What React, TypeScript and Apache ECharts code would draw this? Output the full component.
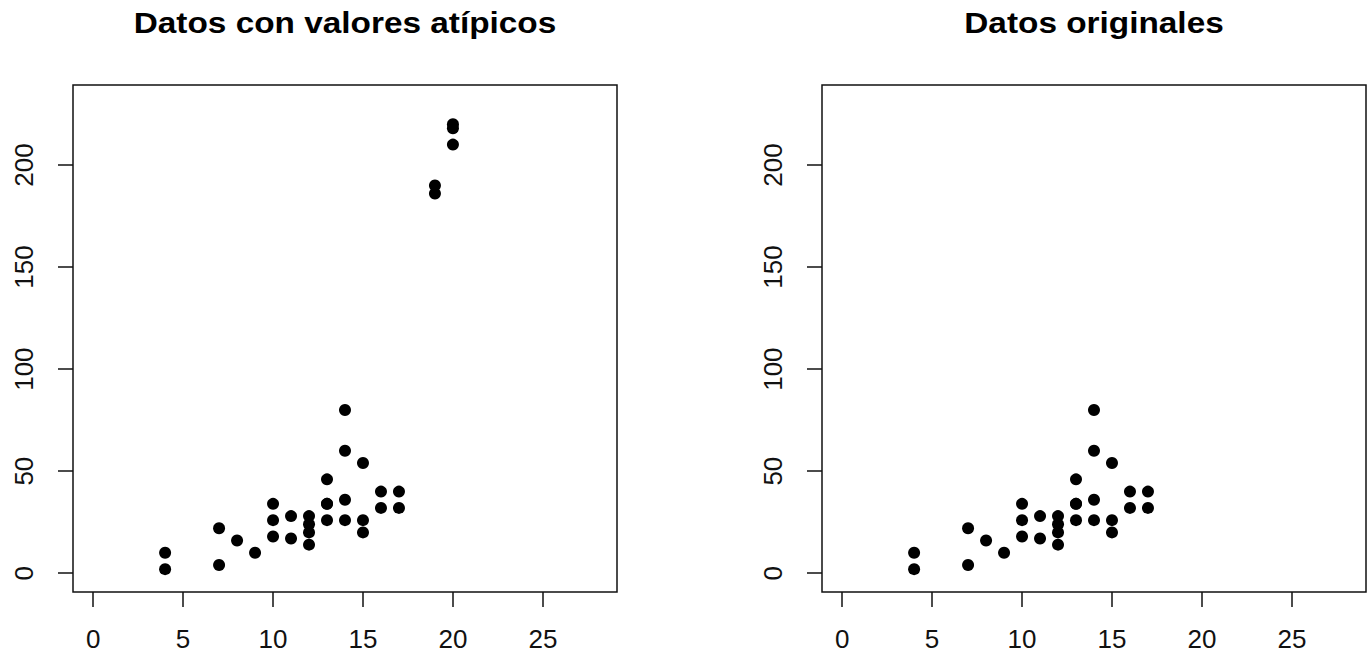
import React, { useEffect, useRef } from "react";
import * as echarts from "echarts";

// Original data (first 30 rows of R's "cars")
const speed = [4, 4, 7, 7, 8, 9, 10, 10, 10, 11, 11, 12, 12, 12, 12, 13, 13, 13, 13, 14, 14, 14, 14, 15, 15, 15, 16, 16, 17, 17];
const dist = [2, 10, 4, 22, 16, 10, 18, 26, 34, 17, 28, 14, 20, 24, 28, 26, 34, 34, 46, 26, 36, 60, 80, 20, 26, 54, 32, 40, 32, 40];
// Outliers added in the left panel
const outlierSpeed = [19, 19, 20, 20, 20];
const outlierDist = [190, 186, 210, 218, 220];

const xTicks = [0, 5, 10, 15, 20, 25];
const yTicks = [0, 50, 100, 150, 200];
const titles = ["Datos con valores atípicos", "Datos originales"];

const X_MIN = 0, X_MAX = 28, Y_MIN = 0, Y_MAX = 230;
const xPad = (X_MAX - X_MIN) * 0.04;
const yPad = (Y_MAX - Y_MIN) * 0.04;

export default function App() {
  const ref = useRef<HTMLDivElement>(null);
  useEffect(() => {
    document.body.style.margin = "0";
    const chart = echarts.init(ref.current!, null, { renderer: "svg" });
    const font = "'Liberation Sans', Arial, sans-serif";
    const original = speed.map((s, i) => [s, dist[i]]);
    const withOutliers = original.concat(outlierSpeed.map((s, i) => [s, outlierDist[i]]));
    const grids = [
      { left: 73, top: 85, width: 544, height: 507 },
      { left: 822, top: 85, width: 544, height: 507 },
    ];
    const mkX = (gi: number) => ({
      type: "value",
      gridIndex: gi,
      min: X_MIN - xPad,
      max: X_MAX + xPad,
      splitLine: { show: false },
      axisLine: { show: false, onZero: false },
      axisTick: { show: true, length: 15, inside: false, customValues: xTicks, lineStyle: { color: "#111", width: 1.5 } },
      axisLabel: { show: true, customValues: xTicks, margin: 34, fontSize: 26, color: "#111", fontFamily: font },
    });
    const mkY = (gi: number) => ({
      type: "value",
      gridIndex: gi,
      min: Y_MIN - yPad,
      max: Y_MAX + yPad,
      splitLine: { show: false },
      axisLine: { show: false, onZero: false },
      axisTick: { show: true, length: 15, inside: false, customValues: yTicks, lineStyle: { color: "#111", width: 1.5 } },
      axisLabel: { show: true, customValues: yTicks, rotate: 90, margin: 36, fontSize: 26, color: "#111", fontFamily: font },
    });
    const titleCenters = [grids[0].left + grids[0].width / 2, grids[1].left + grids[1].width / 2];
    chart.setOption({
      animation: false,
      backgroundColor: "#fff",
      graphic: titles.map((t, i) => ({
        type: "text",
        x: titleCenters[i],
        y: 23,
        scaleX: 1.15,
        style: {
          text: t,
          fontSize: 29,
          fontWeight: "bold",
          fontFamily: font,
          fill: "#000",
          textAlign: "center",
          textVerticalAlign: "middle",
        },
      })),
      grid: grids.map((g) => ({ ...g, show: true, borderColor: "#111", borderWidth: 1.5, backgroundColor: "transparent" })),
      xAxis: [mkX(0), mkX(1)],
      yAxis: [mkY(0), mkY(1)],
      series: [
        { type: "scatter", xAxisIndex: 0, yAxisIndex: 0, data: withOutliers, symbol: "circle", symbolSize: 12, itemStyle: { color: "#000", opacity: 1 } },
        { type: "scatter", xAxisIndex: 1, yAxisIndex: 1, data: original, symbol: "circle", symbolSize: 12, itemStyle: { color: "#000", opacity: 1 } },
      ],
    });
    return () => chart.dispose();
  }, []);
  return <div ref={ref} style={{ width: 1370, height: 658 }} />;
}
